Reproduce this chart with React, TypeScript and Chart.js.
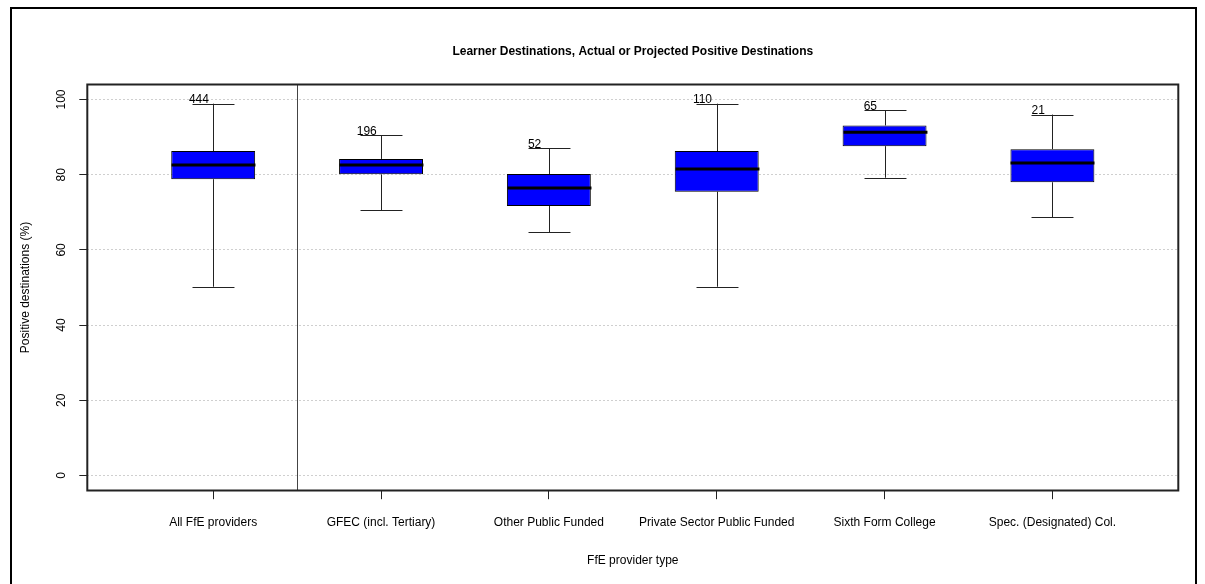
import React, { useEffect, useRef } from "react";
import { Chart, registerables } from "chart.js";

Chart.register(...registerables);

const categories: string[] = [
  "All FfE providers",
  "GFEC (incl. Tertiary)",
  "Other Public Funded",
  "Private Sector Public Funded",
  "Sixth Form College",
  "Spec. (Designated) Col.",
];
const counts: number[] = [444, 196, 52, 110, 65, 21];
const whiskerLow: number[] = [50.2, 70.5, 64.7, 50.2, 79.2, 68.7];
const q1: number[] = [78.8, 80.1, 71.7, 75.5, 87.6, 78.0];
const median: number[] = [82.6, 82.6, 76.5, 81.5, 91.3, 83.1];
const q3: number[] = [86.3, 84.2, 80.2, 86.3, 93.1, 86.8];
const whiskerHigh: number[] = [98.9, 90.5, 87.0, 98.9, 97.2, 96.0];
const yTicks: number[] = [0, 20, 40, 60, 80, 100];
const dividerAt = 1.5;

const FONT = "'Liberation Sans', Arial, Helvetica, sans-serif";

const boxPlugin = {
  id: "boxExtras",
  beforeDraw(chart: any) {
    const { ctx } = chart;
    ctx.save();
    ctx.strokeStyle = "#000";
    ctx.lineWidth = 2;
    ctx.strokeRect(11, 8, chart.width - 20, chart.height + 20);
    ctx.restore();
  },
  afterDatasetsDraw(chart: any) {
    const { ctx, chartArea } = chart;
    const xs = chart.scales.x;
    const ys = chart.scales.y;
    const unit = xs.getPixelForValue(2) - xs.getPixelForValue(1);
    ctx.save();
    // divider
    const dx = Math.round(xs.getPixelForValue(dividerAt)) + 0.5;
    ctx.strokeStyle = "#444";
    ctx.lineWidth = 1;
    ctx.beginPath();
    ctx.moveTo(dx, chartArea.top);
    ctx.lineTo(dx, chartArea.bottom);
    ctx.stroke();

    categories.forEach((_, i) => {
      const cx = Math.round(xs.getPixelForValue(i + 1)) + 0.5;
      const capHalf = unit * 0.125;
      const boxHalf = unit * 0.25;
      const yHi = ys.getPixelForValue(whiskerHigh[i]);
      const yQ3 = ys.getPixelForValue(q3[i]);
      const yQ1 = ys.getPixelForValue(q1[i]);
      const yLo = ys.getPixelForValue(whiskerLow[i]);
      const yMed = ys.getPixelForValue(median[i]);
      ctx.strokeStyle = "#222";
      ctx.lineWidth = 1;
      ctx.beginPath();
      ctx.moveTo(cx, yQ3);
      ctx.lineTo(cx, yHi);
      ctx.moveTo(cx, yQ1);
      ctx.lineTo(cx, yLo);
      ctx.moveTo(cx - capHalf, Math.round(yHi) + 0.5);
      ctx.lineTo(cx + capHalf, Math.round(yHi) + 0.5);
      ctx.moveTo(cx - capHalf, Math.round(yLo) + 0.5);
      ctx.lineTo(cx + capHalf, Math.round(yLo) + 0.5);
      ctx.stroke();
      // median
      ctx.strokeStyle = "#000";
      ctx.lineWidth = 3;
      ctx.beginPath();
      ctx.moveTo(cx - boxHalf, yMed);
      ctx.lineTo(cx + boxHalf, yMed);
      ctx.stroke();
      // count label
      ctx.fillStyle = "#000";
      ctx.font = `12px ${FONT}`;
      ctx.textAlign = "center";
      ctx.textBaseline = "middle";
      ctx.fillText(
        String(counts[i]),
        xs.getPixelForValue(i + 1 - 0.085),
        ys.getPixelForValue(whiskerHigh[i] + 1)
      );
    });

    // plot box
    ctx.strokeStyle = "#222";
    ctx.lineWidth = 2;
    ctx.strokeRect(
      chartArea.left,
      chartArea.top,
      chartArea.right - chartArea.left,
      chartArea.bottom - chartArea.top
    );
    ctx.restore();
  },
};

export default function App() {
  const ref = useRef<HTMLCanvasElement | null>(null);
  useEffect(() => {
    document.body.style.margin = "0";
    const canvas = ref.current;
    if (!canvas) return;
    const chart = new Chart(canvas, {
      type: "bar",
      data: {
        datasets: [
          {
            data: categories.map((_, i) => ({ x: i + 1, y: [q1[i], q3[i]] })) as any,
            backgroundColor: "#0000FF",
            borderColor: "#000",
            borderWidth: 1,
            borderSkipped: false,
            categoryPercentage: 1,
            barPercentage: 0.5,
          } as any,
        ],
      },
      options: {
        responsive: false,
        animation: false,
        devicePixelRatio: 1,
        layout: { padding: { left: 0, right: 26.7, top: 0, bottom: 0 } },
        plugins: {
          legend: { display: false },
          tooltip: { enabled: false },
          title: {
            display: true,
            fullSize: false,
            text: "Learner Destinations, Actual or Projected Positive Destinations",
            color: "#000",
            font: { family: FONT, size: 12, weight: "bold" },
            padding: { top: 44.5, bottom: 25.6 },
          },
        },
        scales: {
          x: {
            type: "linear",
            min: 0.25,
            max: 6.75,
            offset: false,
            afterBuildTicks: (axis: any) => {
              axis.ticks = categories.map((_, i) => ({ value: i + 1 }));
            },
            afterFit: (axis: any) => {
              axis.height = 93.5;
            },
            grid: {
              offset: false,
              drawOnChartArea: false,
              drawTicks: true,
              tickLength: 8.7,
              tickColor: "#222",
              color: "#222",
            },
            border: { display: false },
            ticks: {
              autoSkip: false,
              maxRotation: 0,
              minRotation: 0,
              padding: 16.6,
              color: "#000",
              font: { family: FONT, size: 12 },
              callback: (v: any) => categories[Number(v) - 1] ?? "",
            },
            title: {
              display: true,
              text: "FfE provider type",
              color: "#000",
              font: { family: FONT, size: 12 },
              padding: { top: 0, bottom: 16.1 },
            },
          },
          y: {
            type: "linear",
            min: -4,
            max: 104,
            afterBuildTicks: (axis: any) => {
              axis.ticks = yTicks.map((v) => ({ value: v }));
            },
            afterFit: (axis: any) => {
              axis.width = 87.3;
            },
            grid: {
              drawOnChartArea: true,
              drawTicks: true,
              tickLength: 8,
              tickColor: "#222",
              color: "#cfcfcf",
              lineWidth: 1,
            },
            border: { display: false, dash: [2, 2] },
            ticks: {
              minRotation: 90,
              maxRotation: 90,
              crossAlign: "center",
              padding: 7.3,
              color: "#000",
              font: { family: FONT, size: 12 },
            },
            title: {
              display: true,
              text: "Positive destinations (%)",
              color: "#000",
              font: { family: FONT, size: 12 },
              padding: { top: 18.8, bottom: 0 },
            },
          },
        },
      },
      plugins: [boxPlugin],
    } as any);
    return () => chart.destroy();
  }, []);
  return (
    <div style={{ width: 1205, height: 584 }}>
      <canvas ref={ref} width={1205} height={584} style={{ display: "block" }} />
    </div>
  );
}
